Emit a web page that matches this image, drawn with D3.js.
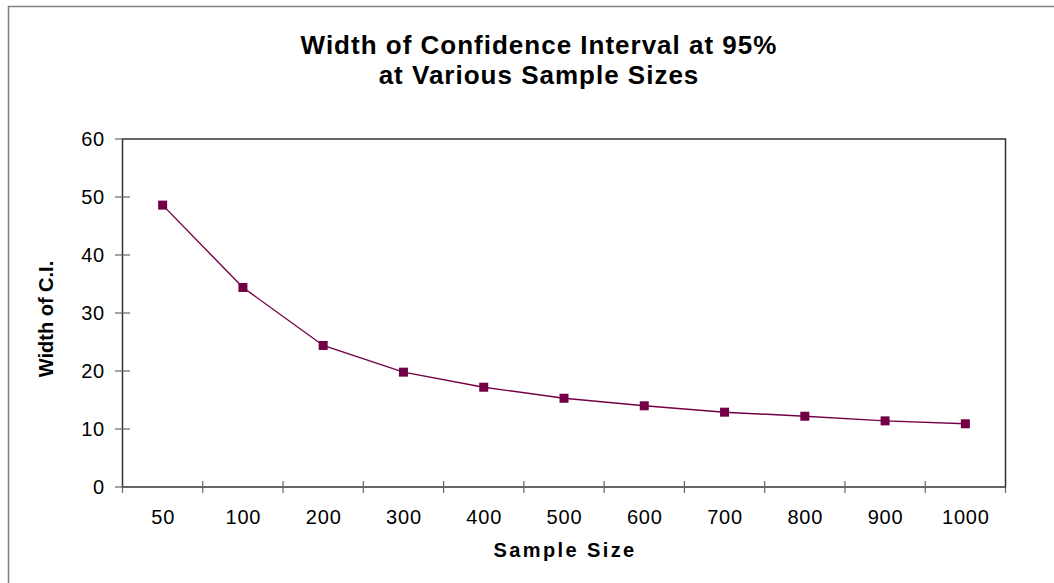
<!doctype html>
<html>
    <head>
        <meta charset="utf-8">
        <title>width of confidence interval</title>
        <script src="https://d3js.org/d3.v7.min.js"></script>
        <style type="text/css">
            body { margin:0; background:#fff; }
            text { font-family:"Liberation Sans", Arial, sans-serif; fill:#000; }
            .tick { font-size:20px; letter-spacing:0.8px; }
            .title { font-size:26px; font-weight:bold; letter-spacing:1px; text-anchor:middle; }
            .axis-title { font-size:20px; font-weight:bold; text-anchor:middle; }
        </style>
    </head>
    <body>
      <svg></svg>
      <script type="text/javascript">

        let sampleSizes = ['50', '100', '200', '300', '400', '500', '600', '700', '800', '900', '1000'];
        let ciWidths = [48.6, 34.4, 24.4, 19.8, 17.2, 15.3, 14.0, 12.9, 12.2, 11.4, 10.9];
        let yTicks = [0, 10, 20, 30, 40, 50, 60];
        let titleLines = ['Width of Confidence Interval at 95%', 'at Various Sample Sizes'];

        let w = 1054,
            h = 583,
            plotLeft = 122.5,
            plotRight = 1005.5,
            plotTop = 139,
            plotBottom = 487;

        let svg = d3.select('svg')
                    .attr('width', w)
                    .attr('height', h);

        // outer chart border (only top and left visible)
        svg.append('path')
           .attr('d', 'M8.5,' + h + 'V6.5H' + w)
           .attr('fill', 'none')
           .attr('stroke', '#808080')
           .attr('stroke-width', 1.5);

        let xScale = d3.scaleBand()
                       .domain(sampleSizes)
                       .range([plotLeft, plotRight])
                       .padding(0);
        let yScale = d3.scaleLinear()
                       .domain([0, 60])
                       .range([plotBottom, plotTop]);

        // plot frame
        svg.append('rect')
           .attr('x', plotLeft)
           .attr('y', plotTop)
           .attr('width', plotRight - plotLeft)
           .attr('height', plotBottom - plotTop)
           .attr('fill', 'none')
           .attr('stroke', '#333')
           .attr('stroke-width', 1.5);

        // y ticks crossing the axis
        svg.selectAll('.ytick')
           .data(yTicks)
           .enter()
           .append('line')
           .attr('class', 'ytick')
           .attr('x1', 115)
           .attr('x2', function(d) { return d === 0 || d === 60 ? plotLeft : 130; })
           .attr('y1', function(d) { return yScale(d); })
           .attr('y2', function(d) { return yScale(d); })
           .attr('stroke', '#666')
           .attr('stroke-width', 1.2);

        svg.selectAll('.ylabel')
           .data(yTicks)
           .enter()
           .append('text')
           .attr('class', 'tick ylabel')
           .attr('x', 105)
           .attr('y', function(d) { return yScale(d); })
           .attr('dy', '0.36em')
           .attr('text-anchor', 'end')
           .text(function(d) { return d; });

        // x ticks at the category boundaries
        let bounds = sampleSizes.map(function(d) { return xScale(d); }).concat([plotRight]);
        svg.selectAll('.xtick')
           .data(bounds)
           .enter()
           .append('line')
           .attr('class', 'xtick')
           .attr('x1', function(d) { return d; })
           .attr('x2', function(d) { return d; })
           .attr('y1', function(d, i) { return i === 0 || i === bounds.length - 1 ? plotBottom : 481; })
           .attr('y2', 493)
           .attr('stroke', '#666')
           .attr('stroke-width', 1.2);

        svg.selectAll('.xlabel')
           .data(sampleSizes)
           .enter()
           .append('text')
           .attr('class', 'tick xlabel')
           .attr('x', function(d) { return xScale(d) + xScale.bandwidth() / 2 + 0.5; })
           .attr('y', 524)
           .attr('text-anchor', 'middle')
           .text(function(d) { return d; });

        // series line and markers
        let line = d3.line()
                     .x(function(d, i) { return xScale(sampleSizes[i]) + xScale.bandwidth() / 2; })
                     .y(function(d) { return yScale(d); });

        svg.append('path')
           .datum(ciWidths)
           .attr('d', line)
           .attr('fill', 'none')
           .attr('stroke', '#730046')
           .attr('stroke-width', 1.4);

        svg.selectAll('.marker')
           .data(ciWidths)
           .enter()
           .append('rect')
           .attr('class', 'marker')
           .attr('x', function(d, i) { return xScale(sampleSizes[i]) + xScale.bandwidth() / 2 - 4.5; })
           .attr('y', function(d) { return yScale(d) - 4.5; })
           .attr('width', 9)
           .attr('height', 9)
           .attr('fill', '#730046');

        // titles
        svg.selectAll('.title')
           .data(titleLines)
           .enter()
           .append('text')
           .attr('class', 'title')
           .attr('x', 539)
           .attr('y', function(d, i) { return 54 + i * 30; })
           .text(function(d) { return d; });

        svg.append('text')
           .attr('class', 'axis-title')
           .attr('x', 565)
           .attr('y', 557)
           .style('letter-spacing', '2.4px')
           .text('Sample Size');

        svg.append('text')
           .attr('class', 'axis-title')
           .attr('transform', 'translate(53,319) rotate(-90)')
           .text('Width of C.I.');
        </script>
    </body>
</html>
